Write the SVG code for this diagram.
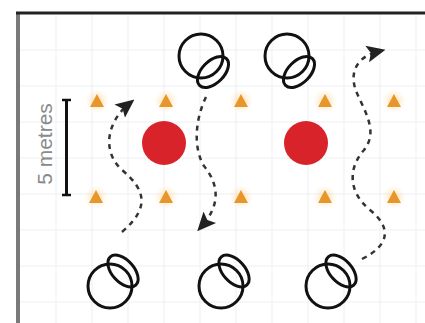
<svg xmlns="http://www.w3.org/2000/svg" width="425" height="323" viewBox="0 0 425 323">
<style>
.grid line{stroke:#edeff4;stroke-width:1}
.cone{fill:#e8962a}
.glow{fill:url(#gl)}
.ball{fill:#d8232a}
.player circle,.player ellipse{fill:none;stroke:#111;stroke-width:3}
.conn path{fill:none;stroke:#333;stroke-width:2.5;stroke-dasharray:5 5;marker-end:url(#ah)}
.label{font-family:"Liberation Sans",Arial,sans-serif;font-size:21px;fill:#8a8a8a}
</style>
<defs>
<radialGradient id="gl"><stop offset="0" stop-color="#fbd9a0" stop-opacity="0.9"/><stop offset="1" stop-color="#fde7c4" stop-opacity="0"/></radialGradient>
<marker id="ah" viewBox="0 0 10 10" refX="7" refY="5" markerWidth="7.5" markerHeight="7.5" orient="auto" markerUnits="strokeWidth">
<path d="M0,0.5 L10,5 L0,9.5 L2,5 Z" fill="#222"/>
</marker>
</defs>
<rect width="425" height="323" fill="#ffffff"/>
<g class="grid">
<line x1="56" y1="15" x2="56" y2="323"/><line x1="92" y1="15" x2="92" y2="323"/><line x1="128" y1="15" x2="128" y2="323"/><line x1="164" y1="15" x2="164" y2="323"/><line x1="200" y1="15" x2="200" y2="323"/><line x1="236" y1="15" x2="236" y2="323"/><line x1="272" y1="15" x2="272" y2="323"/><line x1="308" y1="15" x2="308" y2="323"/><line x1="344" y1="15" x2="344" y2="323"/><line x1="380" y1="15" x2="380" y2="323"/><line x1="416" y1="15" x2="416" y2="323"/>
<line x1="20" y1="50" x2="425" y2="50"/><line x1="20" y1="86" x2="425" y2="86"/><line x1="20" y1="122" x2="425" y2="122"/><line x1="20" y1="158" x2="425" y2="158"/><line x1="20" y1="194" x2="425" y2="194"/><line x1="20" y1="230" x2="425" y2="230"/><line x1="20" y1="266" x2="425" y2="266"/><line x1="20" y1="302" x2="425" y2="302"/>
</g>
<g id="frame">
<line x1="18" y1="13" x2="18" y2="323" stroke="#7a7a7a" stroke-width="4"/>
<line x1="16" y1="13" x2="425" y2="13" stroke="#222" stroke-width="3"/>
</g>
<g id="scale">
<line x1="66.5" y1="100" x2="66.5" y2="195" stroke="#111" stroke-width="3"/>
<line x1="62" y1="100" x2="71" y2="100" stroke="#111" stroke-width="2.5"/>
<line x1="62" y1="195" x2="71" y2="195" stroke="#111" stroke-width="2.5"/>
<text class="label" transform="translate(52,144) rotate(-90)" text-anchor="middle">5 metres</text>
</g>
<g id="cones">
<g id="cone1"><circle class="glow" cx="97" cy="101" r="12"/><polygon class="cone" points="90,107 104,107 97,94"/></g>
<g id="cone2"><circle class="glow" cx="166" cy="101" r="12"/><polygon class="cone" points="159,107 173,107 166,94"/></g>
<g id="cone3"><circle class="glow" cx="241" cy="101" r="12"/><polygon class="cone" points="234,107 248,107 241,94"/></g>
<g id="cone4"><circle class="glow" cx="325" cy="101" r="12"/><polygon class="cone" points="318,107 332,107 325,94"/></g>
<g id="cone5"><circle class="glow" cx="394" cy="101" r="12"/><polygon class="cone" points="387,107 401,107 394,94"/></g>
<g id="cone6"><circle class="glow" cx="96" cy="197" r="12"/><polygon class="cone" points="89,203 103,203 96,190"/></g>
<g id="cone7"><circle class="glow" cx="166" cy="197" r="12"/><polygon class="cone" points="159,203 173,203 166,190"/></g>
<g id="cone8"><circle class="glow" cx="241" cy="197" r="12"/><polygon class="cone" points="234,203 248,203 241,190"/></g>
<g id="cone9"><circle class="glow" cx="325" cy="197" r="12"/><polygon class="cone" points="318,203 332,203 325,190"/></g>
<g id="cone10"><circle class="glow" cx="394" cy="197" r="12"/><polygon class="cone" points="387,203 401,203 394,190"/></g>
</g>
<g id="ball1"><circle class="ball" cx="164" cy="143" r="22"/></g>
<g id="ball2"><circle class="ball" cx="306" cy="143" r="22"/></g>
<g id="player1" class="player"><circle cx="201" cy="56" r="22"/><ellipse cx="213" cy="72" rx="19" ry="11" transform="rotate(-45 213 72)"/></g>
<g id="player2" class="player"><circle cx="287" cy="56" r="22"/><ellipse cx="299" cy="72" rx="19" ry="11" transform="rotate(-45 299 72)"/></g>
<g id="player3" class="player"><circle cx="110" cy="286" r="22"/><ellipse cx="123" cy="271" rx="19" ry="11" transform="rotate(48 123 271)"/></g>
<g id="player4" class="player"><circle cx="221" cy="286" r="22"/><ellipse cx="234" cy="271" rx="19" ry="11" transform="rotate(48 234 271)"/></g>
<g id="player5" class="player"><circle cx="328" cy="286" r="22"/><ellipse cx="341" cy="271" rx="19" ry="11" transform="rotate(48 341 271)"/></g>
<g id="connectors" class="conn">
<path d="M122,232 C150,208 146,190 122,170 C102,152 106,122 130,103"/>
<path d="M206,97 C194,122 194,150 204,166 C220,186 220,206 201,227"/>
<path d="M362,259 C392,244 390,226 370,210 C348,192 348,168 364,150 C380,130 362,108 355,88 C350,70 358,56 380,51"/>
</g>
</svg>
